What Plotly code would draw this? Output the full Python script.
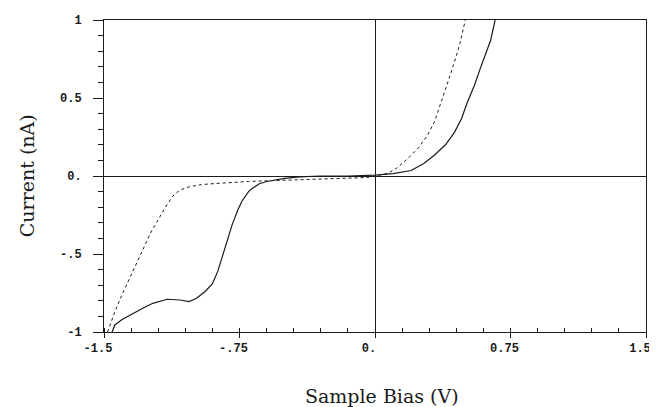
import plotly.graph_objects as go

# Solid curve (Current vs Sample Bias)
solid_x = [-1.455, -1.44, -1.40, -1.34, -1.28, -1.23, -1.15, -1.08, -1.03, -0.99, -0.94, -0.90, -0.87,
           -0.846, -0.82, -0.79, -0.76, -0.736, -0.70, -0.68, -0.64, -0.60, -0.50, -0.42, -0.30, -0.15,
           0.0, 0.10, 0.20, 0.27, 0.33, 0.39, 0.44, 0.48, 0.51, 0.55, 0.58, 0.62, 0.64, 0.665]
solid_y = [-1.0, -0.955, -0.92, -0.88, -0.845, -0.816, -0.79, -0.795, -0.805, -0.785, -0.74, -0.69, -0.61,
           -0.52, -0.42, -0.31, -0.22, -0.16, -0.10, -0.08, -0.05, -0.035, -0.015, -0.005, 0.0, 0.0,
           0.005, 0.015, 0.035, 0.08, 0.135, 0.20, 0.28, 0.37, 0.47, 0.58, 0.68, 0.80, 0.87, 1.0]

# Dotted curve
dotted_x = [-1.48, -1.44, -1.40, -1.36, -1.32, -1.28, -1.24, -1.20, -1.16, -1.12, -1.08, -1.03, -0.96,
            -0.88, -0.70, -0.42, -0.20, -0.05, 0.0, 0.07, 0.12, 0.18, 0.24, 0.29, 0.33, 0.36, 0.39,
            0.42, 0.45, 0.47, 0.50]
dotted_y = [-1.0, -0.87, -0.76, -0.66, -0.55, -0.45, -0.36, -0.28, -0.20, -0.13, -0.09, -0.07, -0.055,
            -0.048, -0.035, -0.024, -0.015, -0.01, 0.0, 0.016, 0.05, 0.11, 0.18, 0.26, 0.35, 0.45, 0.55,
            0.66, 0.77, 0.85, 1.0]

x_tickvals = [-1.5, -0.75, 0.0, 0.75, 1.5]
x_ticktext = ["-1.5", "-.75", "0.", "0.75", "1.5"]
y_tickvals = [-1, -0.5, 0, 0.5, 1]
y_ticktext = ["-1", "-.5", "0.", "0.5", "1"]

ink = "#1a1a1a"
tickfont = dict(family="Liberation Mono", size=12, color=ink, weight="bold")

# The page body has an 8px margin, so the figure is sized/offset to compensate.
OFF = 8
W, H = 657 - OFF, 407 - OFF
L, R, T, B = 104 - OFF, 6, 17 - OFF, 75
pw = W - L - R
ph = H - T - B

fig = go.Figure()
fig.add_trace(go.Scatter(x=solid_x, y=solid_y, mode="lines",
                         line=dict(color=ink, width=1.2), showlegend=False))
fig.add_trace(go.Scatter(x=dotted_x, y=dotted_y, mode="lines",
                         line=dict(color=ink, width=1.0, dash="3px,3px"), showlegend=False))

fig.update_layout(
    width=W, height=H,
    margin=dict(l=L, r=R, t=T, b=B),
    paper_bgcolor="white", plot_bgcolor="white",
    xaxis=dict(range=[-1.5, 1.5], tickvals=x_tickvals, ticktext=x_ticktext,
               showgrid=False, zeroline=True, zerolinecolor=ink, zerolinewidth=1,
               showline=True, linecolor=ink, linewidth=1, mirror=True,
               ticks="outside", ticklen=5, tickcolor=ink, tickfont=tickfont,
               ticklabelshift=-6,
               minor=dict(dtick=0.15, tick0=0, ticks="inside", ticklen=4, tickcolor=ink, showgrid=False)),
    yaxis=dict(range=[-1, 1], tickvals=y_tickvals, ticktext=y_ticktext,
               showgrid=False, zeroline=True, zerolinecolor=ink, zerolinewidth=1,
               showline=True, linecolor=ink, linewidth=1, mirror=True,
               ticks="outside", ticklen=10, tickcolor=ink, tickfont=tickfont,
               ticklabelstandoff=9,
               minor=dict(dtick=0.1, tick0=0, ticks="outside", ticklen=5, tickcolor=ink, showgrid=False)),
    annotations=[
        dict(text="Sample Bias (V)", x=(385 - 104) / pw, y=(332 - 397) / ph,
             xref="paper", yref="paper", xanchor="center", yanchor="middle",
             showarrow=False, font=dict(family="DejaVu Serif", size=19, color=ink)),
        dict(text="Current (nA)", x=(26 - 104) / pw, y=(332 - 174) / ph,
             xref="paper", yref="paper", xanchor="center", yanchor="middle",
             showarrow=False, textangle=-90,
             font=dict(family="DejaVu Serif", size=19, color=ink)),
    ],
)

fig.write_html("out.html")
